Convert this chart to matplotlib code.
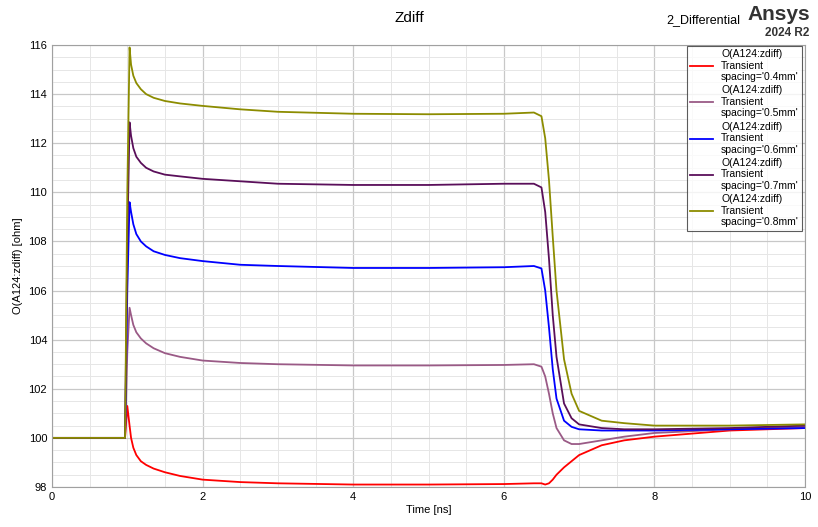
import matplotlib
matplotlib.use('Agg')
import matplotlib.pyplot as plt
from matplotlib.ticker import MultipleLocator

plt.rcParams['font.family'] = ['Liberation Sans', 'DejaVu Sans']

# sampled time points [ns]
t = [0, 0.97, 1.0, 1.03, 1.05, 1.08, 1.12, 1.18, 1.25, 1.35, 1.5, 1.7, 2.0, 2.5, 3, 4, 5,
     6, 6.4, 6.5, 6.55, 6.6, 6.65, 6.7, 6.8, 6.9, 7.0, 7.3, 7.6, 8, 9, 10]

z_04 = [100, 100, 101.3, 100.5, 100.0, 99.6, 99.3, 99.05, 98.9, 98.75, 98.6, 98.45, 98.3,
        98.2, 98.15, 98.1, 98.1, 98.12, 98.15, 98.15, 98.1, 98.15, 98.3, 98.5, 98.8, 99.05,
        99.3, 99.7, 99.9, 100.05, 100.3, 100.4]
z_05 = [100, 100, 103.5, 105.3, 105.0, 104.6, 104.3, 104.05, 103.85, 103.65, 103.45, 103.3,
        103.15, 103.05, 103.0, 102.95, 102.95, 102.97, 103.0, 102.9, 102.5, 101.8, 101.0,
        100.4, 99.9, 99.75, 99.75, 99.9, 100.05, 100.2, 100.35, 100.45]
z_06 = [100, 100, 106.0, 109.6, 109.2, 108.7, 108.3, 108.0, 107.8, 107.6, 107.45, 107.32,
        107.2, 107.05, 107.0, 106.92, 106.92, 106.95, 107.0, 106.9, 106.0, 104.5, 102.8, 101.6,
        100.7, 100.45, 100.35, 100.3, 100.3, 100.3, 100.35, 100.4]
z_07 = [100, 100, 108.0, 112.85, 112.3, 111.8, 111.45, 111.2, 111.0, 110.85, 110.72, 110.65,
        110.55, 110.45, 110.35, 110.3, 110.3, 110.35, 110.35, 110.2, 109.2, 107.3, 105.0, 103.3,
        101.4, 100.8, 100.55, 100.4, 100.35, 100.35, 100.4, 100.5]
z_08 = [100, 100, 110.0, 115.9, 115.2, 114.75, 114.45, 114.2, 114.0, 113.85, 113.72, 113.62,
        113.52, 113.38, 113.28, 113.2, 113.18, 113.2, 113.25, 113.1, 112.2, 110.5, 108.2, 106.0,
        103.2, 101.8, 101.1, 100.7, 100.6, 100.5, 100.5, 100.55]

spacings = ['0.4mm', '0.5mm', '0.6mm', '0.7mm', '0.8mm']
series = [z_04, z_05, z_06, z_07, z_08]
colors = ['#ff0000', '#9a5a86', '#0000ff', '#5a0f5a', '#8c8c00']

fig = plt.figure(figsize=(8.18, 5.27), dpi=100)
ax = fig.add_axes([52 / 818, 40 / 527, 753 / 818, 442 / 527])

for s, z, c in zip(spacings, series, colors):
    ax.plot(t, z, color=c, lw=1.3,
            label="O(A124:zdiff)\nTransient\nspacing='%s'" % s)

ax.set_xlim(0, 10)
ax.set_ylim(98, 116)
ax.xaxis.set_major_locator(MultipleLocator(2))
ax.xaxis.set_minor_locator(MultipleLocator(0.5))
ax.yaxis.set_major_locator(MultipleLocator(2))
ax.yaxis.set_minor_locator(MultipleLocator(0.5))
ax.grid(which='major', color='#c8c8c8', lw=0.9)
ax.grid(which='minor', color='#e6e6e6', lw=0.7)
ax.tick_params(which='both', length=0, labelsize=8)
for sp in ax.spines.values():
    sp.set_color('#a0a0a0')
ax.set_xlabel('Time [ns]', fontsize=8, labelpad=2)
ax.set_ylabel('O(A124:zdiff) [ohm]', fontsize=8)

fig.text(0.5, 0.965, 'Zdiff', ha='center', va='center', fontsize=11)
fig.text(0.905, 0.962, '2_Differential', ha='right', va='center', fontsize=9)
fig.text(0.99, 0.972, 'Ansys', ha='right', va='center', fontsize=15, fontweight='bold', color='#333333')
fig.text(0.99, 0.938, '2024 R2', ha='right', va='center', fontsize=8.5, fontweight='bold', color='#333333')

leg = ax.legend(loc='upper right', bbox_to_anchor=(1.003, 1.01), fontsize=7.5, frameon=True,
                fancybox=False, edgecolor='#333333', handlelength=2.2,
                labelspacing=0.3, borderpad=0.3)
leg.get_frame().set_linewidth(0.8)

fig.savefig('out.png', dpi=100)
